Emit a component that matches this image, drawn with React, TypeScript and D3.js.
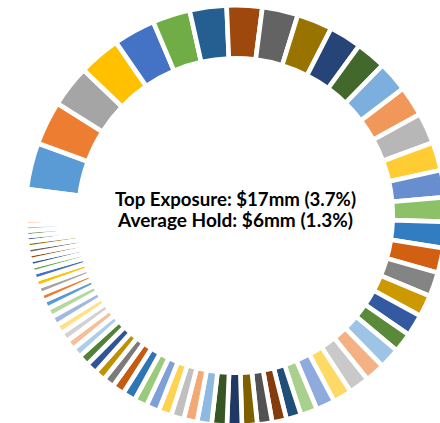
import React from "react";
import * as d3 from "d3";

// Share of portfolio (%) per holding, sorted as drawn clockwise
const holdingShares: number[] = [
  3.58, 3.36, 3.22, 3.22, 3.22, 2.89, 2.83, 2.72, 2.75, 2.72,
  2.5, 2.31, 2.35, 2.32, 2.36, 2.17, 2.08, 1.86, 2.0, 1.92,
  1.86, 1.67, 1.67, 1.5, 1.6, 1.51, 1.58, 1.44, 1.44, 1.28,
  1.14, 1.11, 1.14, 1.17, 1.14, 1.17, 1.11, 1.03, 1.0, 1.01,
  1.0, 1.0, 1.0, 0.94, 0.86, 0.83, 0.86, 0.83, 0.75, 0.76,
  0.72, 0.72, 0.72, 0.71, 0.64, 0.57, 0.58, 0.58, 0.57, 0.49,
  0.47, 0.47, 0.49, 0.47, 0.42, 0.42, 0.42, 0.39, 0.35, 0.32,
  0.29, 0.28, 0.26, 0.25, 0.22, 0.19, 0.18,
];

const palette: string[] = [
  "#5B9BD5", "#ED7D31", "#A5A5A5", "#FFC000", "#4472C4", "#70AD47",
  "#255E91", "#9E480E", "#636363", "#997300", "#264478", "#43682B",
  "#7CAFDD", "#F1975A", "#B7B7B7", "#FFCD33", "#698ED0", "#8CC168",
  "#327DC2", "#D26012", "#848484", "#CC9A00", "#335AA1", "#5A8A39",
  "#9DC3E6", "#F4B183", "#C9C9C9", "#FFD966", "#8FAADC", "#A9D18E",
  "#1F4E79", "#843C0C", "#525252", "#7F6000", "#203864", "#375623",
  "#8DB9E2", "#F3A875", "#C0C0C0", "#FFD34F", "#7F9FD8", "#9ACB7A",
  "#2E75B6", "#C55A11", "#7B7B7B", "#BF9000", "#2F5597", "#548235",
  "#ADCDEA", "#F6BF99", "#D2D2D2", "#FFE084", "#A2B8E1", "#B5D8A0",
];

const centerLines: string[] = [
  "Top Exposure: $17mm (3.7%)",
  "Average Hold: $6mm (1.3%)",
];

export default function App() {
  const W = 440;
  const H = 423;
  const cx = 235.5;
  const cy = 215.5;
  const stroke = 4.6;
  const rOut = 208 + stroke / 2;
  const rIn = 159.5 - stroke / 2;
  const start = (-82.8 * Math.PI) / 180;

  const pie = d3
    .pie<number>()
    .sort(null)
    .value((d) => d)
    .startAngle(start)
    .endAngle(start + 2 * Math.PI);
  const arcs = pie(holdingShares);
  const arcGen = d3.arc<d3.PieArcDatum<number>>().innerRadius(rIn).outerRadius(rOut);

  return (
    <svg
      width={W}
      height={H}
      style={{ position: "absolute", left: 0, top: 0, background: "#fff" }}
    >
      <g transform={`translate(${cx},${cy})`}>
        {arcs.map((a, i) => (
          <path
            key={i}
            d={arcGen(a) || ""}
            fill={palette[i % palette.length]}
            stroke="#fff"
            strokeWidth={stroke}
            strokeLinejoin="miter"
          />
        ))}
      </g>
      <g
        fontFamily="Lato, 'Open Sans', sans-serif"
        fontWeight={700}
        fontSize={19}
        fill="#000"
        textAnchor="middle"
      >
        <text x={cx} y={205.8} textLength={241} lengthAdjust="spacingAndGlyphs">
          {centerLines[0]}
        </text>
        <text x={cx} y={226.6} textLength={235} lengthAdjust="spacingAndGlyphs">
          {centerLines[1]}
        </text>
      </g>
    </svg>
  );
}
